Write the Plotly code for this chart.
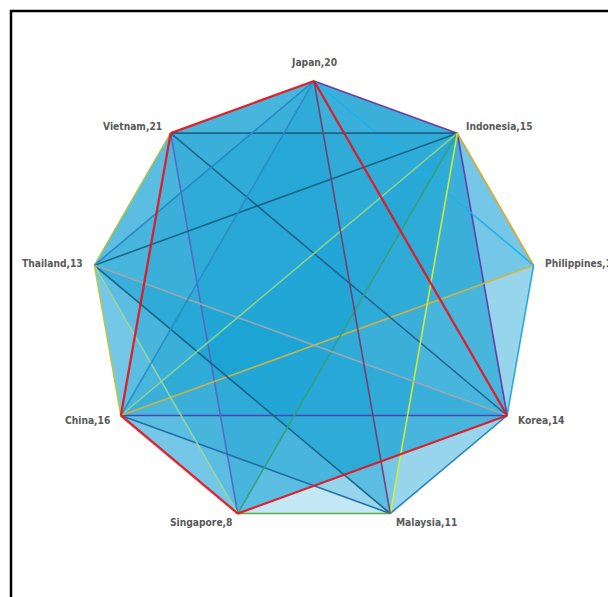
import math
import plotly.graph_objects as go

# ---------------- data ----------------
countries = ["Japan", "Indonesia", "Philippines", "Korea", "Malaysia",
             "Singapore", "China", "Thailand", "Vietnam"]
values = [20, 15, 17, 14, 11, 8, 16, 13, 21]

edge_from = ["Japan", "Indonesia", "Korea", "Singapore", "Indonesia", "Philippines",
             "Japan", "Philippines", "Korea", "China", "Vietnam", "Vietnam",
             "Thailand", "Thailand", "China", "Thailand", "Singapore", "Indonesia",
             "Singapore", "Thailand", "Thailand", "Thailand", "Japan", "Japan",
             "Japan", "Japan", "Vietnam", "China", "Singapore", "Korea"]
edge_to = ["Indonesia", "Korea", "China", "Vietnam", "Philippines", "China",
           "Philippines", "Korea", "Malaysia", "Malaysia", "Indonesia", "Korea",
           "Indonesia", "Malaysia", "Indonesia", "Singapore", "Indonesia", "Malaysia",
           "Malaysia", "Vietnam", "China", "Korea", "Thailand", "China",
           "Malaysia", "Vietnam", "China", "Singapore", "Korea", "Japan"]

# groups of countries whose areas are shaded
fill_groups = [
    countries,
    ["Japan", "Korea", "Singapore", "China", "Vietnam"],
    ["Japan", "Indonesia", "Korea", "China"],
    ["Indonesia", "Philippines", "China"],
    ["Japan", "Philippines", "Korea"],
    ["Japan", "China", "Thailand"],
    ["Indonesia", "Malaysia", "Thailand"],
    ["Indonesia", "Korea", "Vietnam"],
    ["China", "Thailand", "Vietnam"],
    ["Indonesia", "Singapore", "Thailand"],
    ["Japan", "Malaysia", "China"],
    ["Korea", "Malaysia", "Thailand"],
    ["Korea", "Singapore", "Vietnam"],
    ["Vietnam", "Japan", "Indonesia"],
    ["Japan", "Indonesia", "Philippines"],
    ["Vietnam", "Thailand", "Indonesia"],
    ["Vietnam", "Japan", "Indonesia", "Korea", "China"],
    ["Thailand", "Vietnam", "Japan", "Indonesia"],
    ["China", "Singapore", "Korea"],
]

# ---------------- styles ----------------
edge_colors = ["#7030a0", "#6a34a8", "#4a3db5", "#5b63c4", "#e8a317", "#d8b43a",
               "#1bb3ea", "#1aa6dc", "#1a7cc0", "#1f6aa0", "#1a5e86", "#1f5f8a",
               "#156082", "#156082", "#8fd68a", "#9ad99a", "#35a07a", "#d9f02a",
               "#4ea72e", "#a4c24a", "#b5c840", "#a0a8b0", "#2389c4", "#2a8cc6",
               "#7b3a6a", "#e8141c", "#e8141c", "#e8141c", "#e8141c", "#e8141c"]
FILL = "rgba(15,158,213,0.25)"
LABEL_FONT = dict(family="Liberation Sans Narrow, DejaVu Sans Condensed, Arial Narrow, sans-serif",
                  size=10.2, color="#595959", weight="bold")

n = len(countries)
ang = {c: 2 * math.pi * i / n for i, c in enumerate(countries)}
pos = {c: (math.sin(a), math.cos(a)) for c, a in ang.items()}

fig = go.Figure()

for g in fill_groups:
    xs = [pos[c][0] for c in g]
    ys = [pos[c][1] for c in g]
    fig.add_trace(go.Scatter(x=xs, y=ys, fill="toself", fillcolor=FILL,
                             mode="none", hoverinfo="skip", showlegend=False))

for a, b, col in zip(edge_from, edge_to, edge_colors):
    w = 2.3 if col == "#e8141c" else 1.6
    fig.add_trace(go.Scatter(x=[pos[a][0], pos[b][0]], y=[pos[a][1], pos[b][1]],
                             mode="lines", line=dict(color=col, width=w),
                             opacity=0.92, hoverinfo="skip", showlegend=False))

for c, v in zip(countries, values):
    s, co = math.sin(ang[c]), math.cos(ang[c])
    if abs(s) < 0.1:
        xa, ya, xs_, ys_ = "center", "bottom", 0, 11
    else:
        xa = "left" if s > 0 else "right"
        ya = "middle"
        xs_, ys_ = 10 * s, 9 * co
    fig.add_annotation(x=pos[c][0], y=pos[c][1], text=f"{c},{v}", showarrow=False,
                       xanchor=xa, yanchor=ya, xshift=xs_, yshift=ys_, font=LABEL_FONT)

R = 223.0
fig.update_layout(
    width=608, height=597,
    margin=dict(l=0, r=0, t=0, b=0),
    paper_bgcolor="white", plot_bgcolor="white",
    xaxis=dict(range=[-314 / R, (608 - 314) / R], visible=False, fixedrange=True),
    yaxis=dict(range=[(304 - 597) / R, 304 / R], visible=False, fixedrange=True),
    shapes=[dict(type="rect", xref="paper", yref="paper",
                 x0=11 / 608, x1=1.05, y0=-0.05, y1=1 - 11 / 597,
                 line=dict(color="black", width=2.5))],
)

fig.write_html("out.html")
